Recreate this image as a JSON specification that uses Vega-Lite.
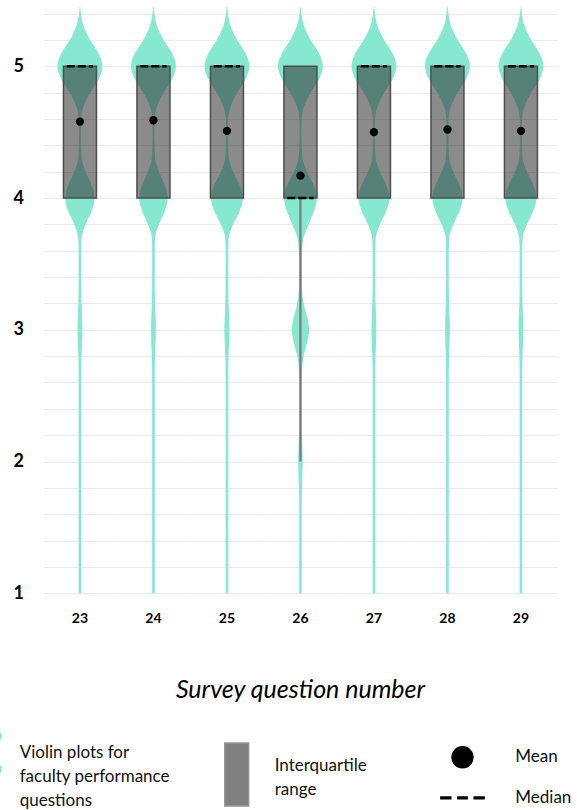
{
  "$schema": "https://vega.github.io/schema/vega-lite/v6.json",
  "autosize": {"type": "pad"},
  "padding": {"left": -24.5, "top": 7, "right": 0, "bottom": 0},
  "background": "white",
  "data": {
    "values": [
      {"q":23,"v":1.0,"d":0.058},{"q":23,"v":1.5,"d":0.058},{"q":23,"v":2.0,"d":0.058},{"q":23,"v":2.6,"d":0.058},
      {"q":23,"v":2.7,"d":0.060},{"q":23,"v":2.8,"d":0.070},{"q":23,"v":2.9,"d":0.093},{"q":23,"v":3.0,"d":0.108},
      {"q":23,"v":3.1,"d":0.093},{"q":23,"v":3.2,"d":0.070},{"q":23,"v":3.3,"d":0.060},{"q":23,"v":3.4,"d":0.058},
      {"q":23,"v":3.6,"d":0.058},{"q":23,"v":3.7,"d":0.075},{"q":23,"v":3.8,"d":0.249},{"q":23,"v":3.9,"d":0.514},
      {"q":23,"v":4.0,"d":0.654},{"q":23,"v":4.1,"d":0.514},{"q":23,"v":4.2,"d":0.249},{"q":23,"v":4.3,"d":0.075},
      {"q":23,"v":4.4,"d":0.050},{"q":23,"v":4.5,"d":0.040},{"q":23,"v":4.6,"d":0.050},{"q":23,"v":4.7,"d":0.169},
      {"q":23,"v":4.8,"d":0.453},{"q":23,"v":4.9,"d":0.820},{"q":23,"v":5.0,"d":1.000},{"q":23,"v":5.1,"d":0.820},
      {"q":23,"v":5.2,"d":0.453},{"q":23,"v":5.3,"d":0.169},{"q":23,"v":5.4,"d":0.042},{"q":23,"v":5.45,"d":0.010},

      {"q":24,"v":1.0,"d":0.058},{"q":24,"v":1.5,"d":0.058},{"q":24,"v":2.0,"d":0.058},{"q":24,"v":2.6,"d":0.058},
      {"q":24,"v":2.7,"d":0.060},{"q":24,"v":2.8,"d":0.070},{"q":24,"v":2.9,"d":0.093},{"q":24,"v":3.0,"d":0.108},
      {"q":24,"v":3.1,"d":0.093},{"q":24,"v":3.2,"d":0.070},{"q":24,"v":3.3,"d":0.060},{"q":24,"v":3.4,"d":0.058},
      {"q":24,"v":3.6,"d":0.058},{"q":24,"v":3.7,"d":0.072},{"q":24,"v":3.8,"d":0.242},{"q":24,"v":3.9,"d":0.499},
      {"q":24,"v":4.0,"d":0.635},{"q":24,"v":4.1,"d":0.499},{"q":24,"v":4.2,"d":0.242},{"q":24,"v":4.3,"d":0.072},
      {"q":24,"v":4.4,"d":0.050},{"q":24,"v":4.5,"d":0.040},{"q":24,"v":4.6,"d":0.050},{"q":24,"v":4.7,"d":0.169},
      {"q":24,"v":4.8,"d":0.453},{"q":24,"v":4.9,"d":0.820},{"q":24,"v":5.0,"d":1.000},{"q":24,"v":5.1,"d":0.820},
      {"q":24,"v":5.2,"d":0.453},{"q":24,"v":5.3,"d":0.169},{"q":24,"v":5.4,"d":0.042},{"q":24,"v":5.45,"d":0.010},

      {"q":25,"v":1.0,"d":0.058},{"q":25,"v":1.5,"d":0.058},{"q":25,"v":2.0,"d":0.058},{"q":25,"v":2.6,"d":0.058},
      {"q":25,"v":2.7,"d":0.060},{"q":25,"v":2.8,"d":0.072},{"q":25,"v":2.9,"d":0.098},{"q":25,"v":3.0,"d":0.115},
      {"q":25,"v":3.1,"d":0.098},{"q":25,"v":3.2,"d":0.072},{"q":25,"v":3.3,"d":0.060},{"q":25,"v":3.4,"d":0.058},
      {"q":25,"v":3.6,"d":0.058},{"q":25,"v":3.7,"d":0.081},{"q":25,"v":3.8,"d":0.271},{"q":25,"v":3.9,"d":0.560},
      {"q":25,"v":4.0,"d":0.712},{"q":25,"v":4.1,"d":0.560},{"q":25,"v":4.2,"d":0.271},{"q":25,"v":4.3,"d":0.081},
      {"q":25,"v":4.4,"d":0.050},{"q":25,"v":4.5,"d":0.040},{"q":25,"v":4.6,"d":0.050},{"q":25,"v":4.7,"d":0.169},
      {"q":25,"v":4.8,"d":0.453},{"q":25,"v":4.9,"d":0.820},{"q":25,"v":5.0,"d":1.000},{"q":25,"v":5.1,"d":0.820},
      {"q":25,"v":5.2,"d":0.453},{"q":25,"v":5.3,"d":0.169},{"q":25,"v":5.4,"d":0.042},{"q":25,"v":5.45,"d":0.010},

      {"q":26,"v":1.0,"d":0.058},{"q":26,"v":1.5,"d":0.058},{"q":26,"v":1.7,"d":0.058},{"q":26,"v":1.8,"d":0.068},
      {"q":26,"v":1.9,"d":0.086},{"q":26,"v":2.0,"d":0.098},{"q":26,"v":2.1,"d":0.086},{"q":26,"v":2.2,"d":0.068},
      {"q":26,"v":2.3,"d":0.058},{"q":26,"v":2.5,"d":0.058},{"q":26,"v":2.6,"d":0.060},{"q":26,"v":2.7,"d":0.073},
      {"q":26,"v":2.8,"d":0.140},{"q":26,"v":2.9,"d":0.291},{"q":26,"v":3.0,"d":0.385},{"q":26,"v":3.1,"d":0.291},
      {"q":26,"v":3.2,"d":0.140},{"q":26,"v":3.3,"d":0.073},{"q":26,"v":3.4,"d":0.060},{"q":26,"v":3.5,"d":0.060},
      {"q":26,"v":3.6,"d":0.075},{"q":26,"v":3.7,"d":0.140},{"q":26,"v":3.8,"d":0.360},{"q":26,"v":3.9,"d":0.600},
      {"q":26,"v":4.0,"d":0.730},{"q":26,"v":4.1,"d":0.580},{"q":26,"v":4.2,"d":0.290},{"q":26,"v":4.3,"d":0.090},
      {"q":26,"v":4.4,"d":0.050},{"q":26,"v":4.5,"d":0.040},{"q":26,"v":4.6,"d":0.050},{"q":26,"v":4.7,"d":0.169},
      {"q":26,"v":4.8,"d":0.453},{"q":26,"v":4.9,"d":0.820},{"q":26,"v":5.0,"d":1.000},{"q":26,"v":5.1,"d":0.820},
      {"q":26,"v":5.2,"d":0.453},{"q":26,"v":5.3,"d":0.169},{"q":26,"v":5.4,"d":0.042},{"q":26,"v":5.45,"d":0.010},

      {"q":27,"v":1.0,"d":0.058},{"q":27,"v":1.5,"d":0.058},{"q":27,"v":2.0,"d":0.058},{"q":27,"v":2.6,"d":0.058},
      {"q":27,"v":2.7,"d":0.060},{"q":27,"v":2.8,"d":0.070},{"q":27,"v":2.9,"d":0.093},{"q":27,"v":3.0,"d":0.108},
      {"q":27,"v":3.1,"d":0.093},{"q":27,"v":3.2,"d":0.070},{"q":27,"v":3.3,"d":0.060},{"q":27,"v":3.4,"d":0.058},
      {"q":27,"v":3.6,"d":0.058},{"q":27,"v":3.7,"d":0.079},{"q":27,"v":3.8,"d":0.264},{"q":27,"v":3.9,"d":0.544},
      {"q":27,"v":4.0,"d":0.692},{"q":27,"v":4.1,"d":0.544},{"q":27,"v":4.2,"d":0.264},{"q":27,"v":4.3,"d":0.079},
      {"q":27,"v":4.4,"d":0.050},{"q":27,"v":4.5,"d":0.040},{"q":27,"v":4.6,"d":0.050},{"q":27,"v":4.7,"d":0.169},
      {"q":27,"v":4.8,"d":0.453},{"q":27,"v":4.9,"d":0.820},{"q":27,"v":5.0,"d":1.000},{"q":27,"v":5.1,"d":0.820},
      {"q":27,"v":5.2,"d":0.453},{"q":27,"v":5.3,"d":0.169},{"q":27,"v":5.4,"d":0.042},{"q":27,"v":5.45,"d":0.010},

      {"q":28,"v":1.0,"d":0.058},{"q":28,"v":1.5,"d":0.058},{"q":28,"v":2.0,"d":0.058},{"q":28,"v":2.6,"d":0.058},
      {"q":28,"v":2.7,"d":0.060},{"q":28,"v":2.8,"d":0.070},{"q":28,"v":2.9,"d":0.093},{"q":28,"v":3.0,"d":0.108},
      {"q":28,"v":3.1,"d":0.093},{"q":28,"v":3.2,"d":0.070},{"q":28,"v":3.3,"d":0.060},{"q":28,"v":3.4,"d":0.058},
      {"q":28,"v":3.6,"d":0.058},{"q":28,"v":3.7,"d":0.077},{"q":28,"v":3.8,"d":0.256},{"q":28,"v":3.9,"d":0.529},
      {"q":28,"v":4.0,"d":0.673},{"q":28,"v":4.1,"d":0.529},{"q":28,"v":4.2,"d":0.256},{"q":28,"v":4.3,"d":0.077},
      {"q":28,"v":4.4,"d":0.050},{"q":28,"v":4.5,"d":0.040},{"q":28,"v":4.6,"d":0.050},{"q":28,"v":4.7,"d":0.169},
      {"q":28,"v":4.8,"d":0.453},{"q":28,"v":4.9,"d":0.820},{"q":28,"v":5.0,"d":1.000},{"q":28,"v":5.1,"d":0.820},
      {"q":28,"v":5.2,"d":0.453},{"q":28,"v":5.3,"d":0.169},{"q":28,"v":5.4,"d":0.042},{"q":28,"v":5.45,"d":0.010},

      {"q":29,"v":1.0,"d":0.058},{"q":29,"v":1.5,"d":0.058},{"q":29,"v":2.0,"d":0.058},{"q":29,"v":2.6,"d":0.058},
      {"q":29,"v":2.7,"d":0.060},{"q":29,"v":2.8,"d":0.070},{"q":29,"v":2.9,"d":0.093},{"q":29,"v":3.0,"d":0.108},
      {"q":29,"v":3.1,"d":0.093},{"q":29,"v":3.2,"d":0.070},{"q":29,"v":3.3,"d":0.060},{"q":29,"v":3.4,"d":0.058},
      {"q":29,"v":3.6,"d":0.058},{"q":29,"v":3.7,"d":0.079},{"q":29,"v":3.8,"d":0.264},{"q":29,"v":3.9,"d":0.544},
      {"q":29,"v":4.0,"d":0.692},{"q":29,"v":4.1,"d":0.544},{"q":29,"v":4.2,"d":0.264},{"q":29,"v":4.3,"d":0.079},
      {"q":29,"v":4.4,"d":0.050},{"q":29,"v":4.5,"d":0.040},{"q":29,"v":4.6,"d":0.050},{"q":29,"v":4.7,"d":0.169},
      {"q":29,"v":4.8,"d":0.453},{"q":29,"v":4.9,"d":0.820},{"q":29,"v":5.0,"d":1.000},{"q":29,"v":5.1,"d":0.820},
      {"q":29,"v":5.2,"d":0.453},{"q":29,"v":5.3,"d":0.169},{"q":29,"v":5.4,"d":0.042},{"q":29,"v":5.45,"d":0.010},

      {"q":23,"q1":4,"q3":5,"med":5,"mean":4.58,"lo":4},
      {"q":24,"q1":4,"q3":5,"med":5,"mean":4.59,"lo":4},
      {"q":25,"q1":4,"q3":5,"med":5,"mean":4.51,"lo":4},
      {"q":26,"q1":4,"q3":5,"med":4,"mean":4.17,"lo":2},
      {"q":27,"q1":4,"q3":5,"med":5,"mean":4.50,"lo":4},
      {"q":28,"q1":4,"q3":5,"med":5,"mean":4.52,"lo":4},
      {"q":29,"q1":4,"q3":5,"med":5,"mean":4.51,"lo":4}
    ]
  },
  "facet": {
    "column": {
      "field": "q",
      "type": "ordinal",
      "title": "Survey question number",
      "header": {
        "labelOrient": "bottom",
        "titleOrient": "bottom",
        "labelFont": "Lato",
        "labelFontSize": 14,
        "labelFontWeight": "bold",
        "labelColor": "#000000",
        "labelPadding": 18,
        "titleFont": "Lato",
        "titleFontSize": 25,
        "titleFontStyle": "italic",
        "titleFontWeight": "normal",
        "titleColor": "#000000",
        "titlePadding": 42
      }
    }
  },
  "spacing": 0.5,
  "spec": {
    "width": 72.9,
    "height": 586.3,
    "layer": [
      {
        "transform": [{"filter": "isValid(datum.d)"}],
        "mark": {"type": "area", "orient": "horizontal", "interpolate": "monotone"},
        "encoding": {
          "y": {"field": "v", "type": "quantitative", "title": null,
                "scale": {"domain": [1, 5.45], "nice": false, "zero": false}},
          "x": {"field": "d", "type": "quantitative", "stack": "center", "impute": null, "axis": null,
                "scale": {"domain": [-0.2, 1.2], "nice": false, "zero": false}},
          "fill": {
            "datum": "Violin plots for faculty performance questions",
            "type": "nominal",
            "scale": {"range": ["#85e8cf"]},
            "legend": {
              "orient": "none", "legendX": -67.8, "legendY": 726, "title": null,
              "symbolType": "M0,-1.4C0.1,-1.1 0.35,-1 0.3,-0.8C0.25,-0.6 0.05,-0.5 0.05,0C0.05,0.5 0.3,0.6 0.3,0.8C0.3,1 0.1,1.1 0,1.4C-0.1,1.1 -0.3,1 -0.3,0.8C-0.3,0.6 -0.05,0.5 -0.05,0C-0.05,-0.5 -0.25,-0.6 -0.3,-0.8C-0.35,-1 -0.1,-1.1 0,-1.4Z",
              "symbolSize": 1600, "symbolStrokeWidth": 0,
              "labelExpr": "['Violin plots for', 'faculty performance', 'questions']",
              "labelOffset": 4
            }
          }
        }
      },
      {
        "transform": [{"filter": "isValid(datum.q1) && datum.lo < datum.q1"}],
        "mark": {"type": "rule", "color": "#7a7a7a", "strokeWidth": 2.2},
        "encoding": {
          "x": {"datum": 0.5, "type": "quantitative", "axis": null},
          "y": {"field": "lo", "type": "quantitative", "title": null},
          "y2": {"field": "q1"}
        }
      },
      {
        "transform": [{"filter": "isValid(datum.q1)"}],
        "mark": {"type": "bar", "width": 33, "fillOpacity": 0.57, "stroke": "#4d4d4d", "strokeWidth": 1.5},
        "encoding": {
          "x": {"datum": 0.5, "type": "quantitative", "axis": null},
          "y": {"field": "q1", "type": "quantitative", "title": null},
          "y2": {"field": "q3"},
          "color": {
            "datum": "Interquartile range",
            "type": "nominal",
            "scale": {"range": ["#333333"]},
            "legend": {
              "orient": "none", "legendX": 160.7, "legendY": 735, "title": null,
              "symbolType": "M-0.38,-1H0.38V1H-0.38Z",
              "symbolSize": 3969, "symbolStrokeColor": "#555555", "symbolStrokeWidth": 1.5,
              "symbolOpacity": 0.62,
              "labelExpr": "['Interquartile', 'range']",
              "labelBaseline": "bottom",
              "labelOffset": 5.5
            }
          }
        }
      },
      {
        "transform": [{"filter": "isValid(datum.q1)"}],
        "mark": {"type": "rule", "color": "#000000", "strokeWidth": 2.6, "strokeDash": [8, 3]},
        "encoding": {
          "x": {"datum": 0.2075, "type": "quantitative", "axis": null},
          "x2": {"datum": 0.7925},
          "y": {"field": "med", "type": "quantitative", "title": null}
        }
      },
      {
        "transform": [{"filter": "isValid(datum.q1)"}],
        "mark": {"type": "point", "filled": true, "color": "#000000", "size": 70, "opacity": 1},
        "encoding": {
          "x": {"datum": 0.5, "type": "quantitative", "axis": null},
          "y": {"field": "mean", "type": "quantitative", "title": null},
          "shape": {
            "datum": "Mean",
            "type": "nominal",
            "scale": {
              "domain": ["Mean", "Median"],
              "range": ["circle", "M-2,-0.14H-0.98V0.14H-2Z M-0.48,-0.14H0.48V0.14H-0.48Z M0.98,-0.14H2V0.14H0.98Z"]
            },
            "legend": {
              "orient": "none", "legendX": 407.5, "legendY": 738.8, "title": null,
              "symbolSize": 500, "symbolFillColor": "#000000", "symbolStrokeWidth": 0,
              "labelOffset": 41.3, "rowPadding": 17.6
            }
          }
        }
      }
    ]
  },
  "config": {
    "view": {"stroke": null},
    "font": "Lato",
    "style": {"guide-label": {"lineHeight": 24}},
    "axisY": {
      "values": [1, 1.5, 2, 2.5, 3, 3.5, 4, 4.5, 5],
      "labelExpr": "datum.value % 1 === 0 ? format(datum.value, 'd') : ''",
      "labelFont": "Lato",
      "labelFontSize": 18,
      "labelFontWeight": "bold",
      "labelColor": "#000000",
      "labelPadding": 20,
      "ticks": false,
      "domain": false,
      "grid": true,
      "gridColor": "#ebebeb",
      "gridWidth": 1,
      "minExtent": 30,
      "maxExtent": 30
    },
    "legend": {
      "padding": 0,
      "labelFont": "Lato",
      "labelFontSize": 17,
      "labelColor": "#111111",
      "labelLimit": 400
    }
  }
}
